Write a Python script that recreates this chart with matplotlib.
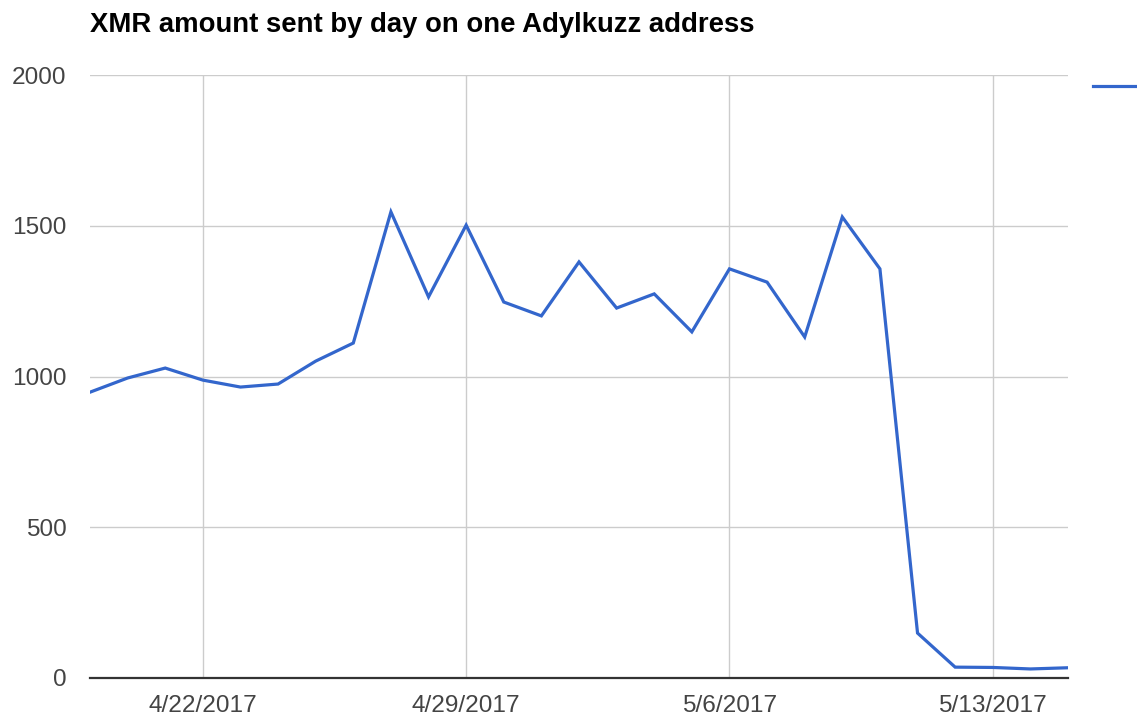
import matplotlib
matplotlib.use("Agg")
import matplotlib.pyplot as plt
import matplotlib.dates as mdates
from matplotlib.ticker import FuncFormatter
import pandas as pd

dates = pd.date_range("2017-04-19", "2017-05-15", freq="D")
xmr_sent = [948, 995, 1028, 988, 965, 975, 1051, 1111, 1546, 1264,
            1502, 1247, 1201, 1380, 1227, 1274, 1148, 1357, 1313, 1131,
            1529, 1357, 149, 36, 35, 30, 34]
x_ticks = ["2017-04-22", "2017-04-29", "2017-05-06", "2017-05-13"]
y_ticks = [0, 500, 1000, 1500, 2000]
title = "XMR amount sent by day on one Adylkuzz address"

plt.rcParams['font.family'] = ['Liberation Sans', 'DejaVu Sans']

fig = plt.figure(figsize=(11.37, 7.2), dpi=100)
ax = fig.add_axes([90/1137, 1-678/720, (1068-90)/1137, (678-75)/720])

line, = ax.plot(dates, xmr_sent, color="#3366cc", lw=2.3,
                solid_joinstyle="miter", zorder=3)

ax.set_xlim(dates[0], dates[-1])
ax.set_ylim(0, 2000)
ax.set_yticks(y_ticks)
ax.set_xticks(pd.to_datetime(x_ticks))
ax.xaxis.set_major_formatter(FuncFormatter(
    lambda v, p: (lambda d: f"{d.month}/{d.day}/{d.year}")(mdates.num2date(v))))

ax.grid(True, color="#cccccc", lw=1.0, zorder=0)
for s in ["top", "right", "left"]:
    ax.spines[s].set_visible(False)
ax.spines["bottom"].set_color("#333333")
ax.spines["bottom"].set_linewidth(1.6)
ax.spines["bottom"].set_zorder(4)
ax.tick_params(axis="both", length=0, labelsize=17.6, labelcolor="#444444")
ax.tick_params(axis="x", pad=12)
ax.tick_params(axis="y", pad=17)

fig.text(90/1137, 1-32/720, title, fontsize=19.8, fontweight="bold",
         color="#000000", ha="left", va="baseline")

# legend key only (its label lies beyond the right edge in the reference)
fig.legend(handles=[line], labels=[""], loc="center left",
           bbox_to_anchor=(1093/1137, 1-88/720),
           frameon=False, handlelength=2.0, handletextpad=0.0, fontsize=17,
           borderaxespad=0, borderpad=0)

fig.savefig("out.png", dpi=100)
